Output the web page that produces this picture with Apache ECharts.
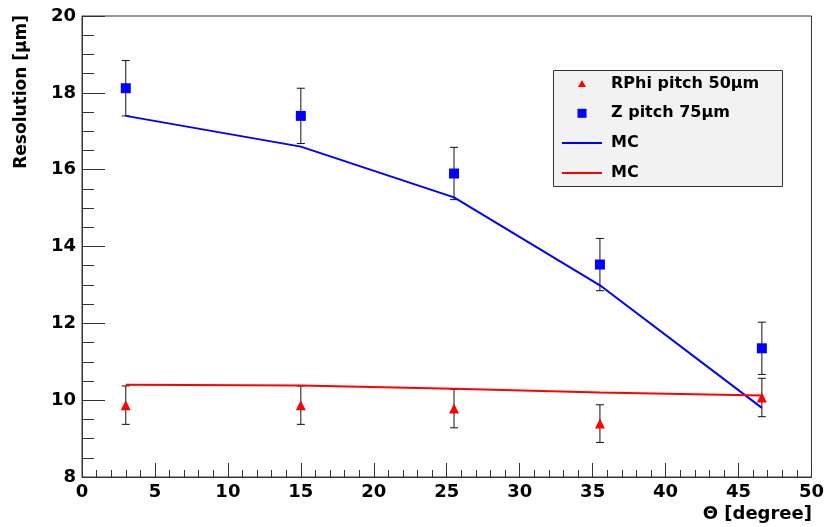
<!DOCTYPE html>
<html><head><meta charset="utf-8">
<script src="https://cdn.jsdelivr.net/npm/echarts@6/dist/echarts.min.js"></script>
<style>html,body{margin:0;padding:0;background:#fff}#c{width:827px;height:527px}</style>
</head><body><div id="c"></div>
<script>
const theta = [3, 15, 25.5, 35.5, 46.6];
const zRes = [18.12, 17.4, 15.9, 13.53, 11.35];
const zErr = [0.72, 0.72, 0.68, 0.68, 0.68];
const rphiRes = [9.87, 9.87, 9.78, 9.39, 10.07];
const rphiErr = [0.5, 0.5, 0.5, 0.49, 0.5];
const mcZ = [17.4, 16.6, 15.28, 12.99, 9.8];
const mcRphi = [10.4, 10.38, 10.3, 10.2, 10.12];
const xTicks = [0, 5, 10, 15, 20, 25, 30, 35, 40, 45, 50];
const yTicks = [8, 10, 12, 14, 16, 18, 20];

const FONT = '"DejaVu Sans", Verdana, sans-serif';
const chart = echarts.init(document.getElementById('c'));

function errData(vals, errs) {
  return theta.map((x, i) => [x, vals[i] - errs[i], vals[i] + errs[i]]);
}
function renderErr(params, api) {
  const x = api.value(0);
  const lo = api.coord([x, api.value(1)]);
  const hi = api.coord([x, api.value(2)]);
  const cap = 4;
  const st = { stroke: '#111', lineWidth: 1 };
  return {
    type: 'group',
    children: [
      { type: 'line', shape: { x1: lo[0], y1: lo[1], x2: hi[0], y2: hi[1] }, style: st },
      { type: 'line', shape: { x1: lo[0] - cap, y1: lo[1], x2: lo[0] + cap, y2: lo[1] }, style: st },
      { type: 'line', shape: { x1: hi[0] - cap, y1: hi[1], x2: hi[0] + cap, y2: hi[1] }, style: st }
    ]
  };
}

const tickLabel = { color: '#000', fontFamily: FONT, fontWeight: 'bold', fontSize: 18 };

chart.setOption({
  animation: false,
  backgroundColor: '#fff',
  grid: { left: 82, right: 15, top: 16, bottom: 50, show: true, borderColor: '#333', borderWidth: 1, backgroundColor: 'transparent' },
  xAxis: {
    type: 'value', min: xTicks[0], max: xTicks[xTicks.length - 1], interval: 5,
    axisLine: { lineStyle: { color: '#333', width: 1 } },
    axisTick: { inside: true, length: 14, lineStyle: { color: '#333' } },
    minorTick: { show: true, splitNumber: 5, length: 7, lineStyle: { color: '#333' } },
    splitLine: { show: false },
    axisLabel: Object.assign({ margin: 6 }, tickLabel)
  },
  yAxis: {
    type: 'value', min: yTicks[0], max: yTicks[yTicks.length - 1], interval: 2,
    axisLine: { lineStyle: { color: '#333', width: 1 } },
    axisTick: { inside: true, length: 23, lineStyle: { color: '#333' } },
    minorTick: { show: true, splitNumber: 4, length: 12, lineStyle: { color: '#333' } },
    splitLine: { show: false },
    axisLabel: Object.assign({ margin: 6 }, tickLabel)
  },
  legend: {
    left: 562, top: 75.5, orient: 'vertical', padding: 0,
    itemWidth: 40, itemHeight: 10, itemGap: 13.8, symbolKeepAspect: true,
    textStyle: { color: '#000', fontFamily: FONT, fontWeight: 'bold', fontSize: 16, lineHeight: 16, padding: [0, 0, 0, 4] },
    formatter: n => n.indexOf('MC') === 0 ? 'MC' : n,
    data: [
      { name: 'RPhi pitch 50μm', icon: 'path://M0,0M1,8.5L5,1.5L9,8.5ZM10,10' },
      { name: 'Z pitch 75μm', icon: 'path://M0,0M0.5,0.5L9.5,0.5L9.5,9.5L0.5,9.5ZM10,10' },
      { name: 'MC Z', icon: 'path://M0,0L40,0L40,2L0,2Z' },
      { name: 'MC RPhi', icon: 'path://M0,0L40,0L40,2L0,2Z' }
    ]
  },
  series: [
    { name: 'RPhi err', type: 'custom', renderItem: renderErr, data: errData(rphiRes, rphiErr), z: 2 },
    { name: 'Z err', type: 'custom', renderItem: renderErr, data: errData(zRes, zErr), z: 2 },
    { name: 'MC Z', type: 'line', data: theta.map((x, i) => [x, mcZ[i]]), symbol: 'none',
      lineStyle: { color: '#0000ff', width: 2 }, itemStyle: { color: '#0000ff' }, z: 3 },
    { name: 'MC RPhi', type: 'line', data: theta.map((x, i) => [x, mcRphi[i]]), symbol: 'none',
      lineStyle: { color: '#ff0000', width: 2 }, itemStyle: { color: '#ff0000' }, z: 3 },
    { name: 'RPhi pitch 50μm', type: 'scatter', symbol: 'triangle', symbolSize: 10,
      data: theta.map((x, i) => [x, rphiRes[i]]), itemStyle: { color: '#ff0000', opacity: 1 }, z: 4 },
    { name: 'Z pitch 75μm', type: 'scatter', symbol: 'rect', symbolSize: 10,
      data: theta.map((x, i) => [x, zRes[i]]), itemStyle: { color: '#0000ff', opacity: 1 }, z: 4 }
  ],
  graphic: [
    { type: 'rect', z: 0, shape: { x: 553.5, y: 70.5, width: 229, height: 116 },
      style: { fill: '#f2f2f2', stroke: '#333', lineWidth: 1 } },
    { type: 'text', right: 15, top: 505, style: { text: 'Θ [degree]', fill: '#000', font: 'bold 18px ' + FONT } },
    { type: 'text', x: 22, y: 15, rotation: Math.PI / 2,
      style: { text: 'Resolution [μm]', fill: '#000', font: 'bold 17px ' + FONT, textAlign: 'right', textVerticalAlign: 'middle' } }
  ]
});
</script>
</body></html>
